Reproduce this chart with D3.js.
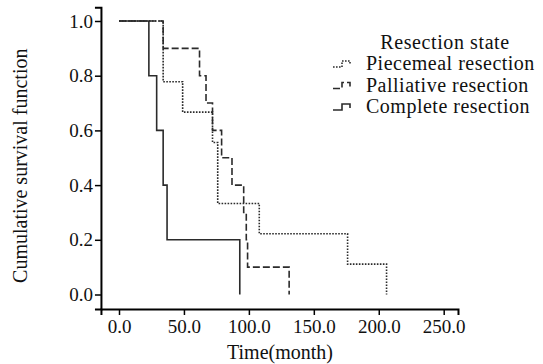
<!DOCTYPE html>
<html>
<head>
<meta charset="utf-8">
<script src="https://cdn.jsdelivr.net/npm/d3@7"></script>
<style>
  body { margin: 0; background: #fff; }
  svg, svg text { font-family: "Liberation Serif", "Times New Roman", serif !important; }
</style>
</head>
<body>
<div id="chart"></div>
<script>
// Kaplan-Meier steps (months, cumulative survival)
const piecemealTime = [0, 34, 49, 72, 76, 108, 176, 206];
const piecemealSurv = [1.0, 0.778, 0.667, 0.556, 0.333, 0.222, 0.111, 0.0];
const palliativeTime = [0, 34, 62, 67, 72, 79, 87, 96, 98, 99, 131];
const palliativeSurv = [1.0, 0.9, 0.8, 0.7, 0.6, 0.5, 0.4, 0.3, 0.2, 0.1, 0.0];
const completeTime = [0, 23, 29, 34, 37, 93];
const completeSurv = [1.0, 0.8, 0.6, 0.4, 0.2, 0.0];

const groupNames = ['Piecemeal resection', 'Palliative resection', 'Complete resection'];
const xTicks = [0, 50, 100, 150, 200, 250];
const yTicks = [0, 0.2, 0.4, 0.6, 0.8, 1.0];

const W = 543, H = 364;
const ink = '#2b2b2b';
const serif = '"Liberation Serif", "Times New Roman", serif';
const dashes = ['1.6,1.4', '7,3', null];

const series = [
  { name: groupNames[0], time: piecemealTime, surv: piecemealSurv },
  { name: groupNames[1], time: palliativeTime, surv: palliativeSurv },
  { name: groupNames[2], time: completeTime, surv: completeSurv }
];

const x = d3.scaleLinear().domain([0, 250]).range([119, 443.7]);
const y = d3.scaleLinear().domain([0, 1]).range([294.5, 21]);

// axes are drawn a little outside the data area (offset frame)
const xAxisScale = x.copy().domain([-13.9, 261]).range([x(-13.9), x(261)]);
const yAxisScale = y.copy().domain([-0.053, 1.05]).range([y(-0.053), y(1.05)]);

const svg = d3.select('#chart')
  .append('svg')
    .attr('width', W)
    .attr('height', H)
    .attr('font-family', serif);

const xAxisY = yAxisScale(-0.053);
const yAxisX = xAxisScale(-13.9);

const gx = svg.append('g')
  .attr('transform', `translate(0,${xAxisY})`)
  .call(d3.axisBottom(xAxisScale).tickValues(xTicks).tickSizeOuter(0).tickSize(6).tickPadding(5)
    .tickFormat(d3.format('.1f')));
gx.attr('font-family', serif).attr('font-size', 19);
gx.select('.domain').attr('stroke', '#000').attr('stroke-width', 2);
gx.selectAll('.tick line').attr('stroke', '#000').attr('stroke-width', 1.5);
gx.selectAll('text').attr('fill', '#111');

const gy = svg.append('g')
  .attr('transform', `translate(${yAxisX},0)`)
  .call(d3.axisLeft(yAxisScale).tickValues(yTicks).tickSizeOuter(0).tickSize(6).tickPadding(2)
    .tickFormat(d3.format('.1f')));
gy.attr('font-family', serif).attr('font-size', 19);
gy.select('.domain').attr('stroke', '#000').attr('stroke-width', 2);
gy.selectAll('.tick line').attr('stroke', '#000').attr('stroke-width', 1.5);
gy.selectAll('text').attr('fill', '#111');

// survival curves
const line = d3.line()
  .x(d => x(d[0]))
  .y(d => y(d[1]))
  .curve(d3.curveStepAfter);

series.forEach((s, i) => {
  const pts = s.time.map((t, k) => [t, s.surv[k]]);
  svg.append('path')
    .datum(pts)
    .attr('fill', 'none')
    .attr('stroke', ink)
    .attr('stroke-width', 1.6)
    .attr('stroke-dasharray', dashes[i])
    .attr('d', line);
});

// axis titles
svg.append('text')
  .attr('x', 280)
  .attr('y', 359)
  .attr('text-anchor', 'middle')
  .attr('font-size', 20)
  .attr('fill', '#111')
  .text('Time(month)');

svg.append('text')
  .attr('transform', `translate(27,${y(0.5) + 8}) rotate(-90)`)
  .attr('text-anchor', 'middle')
  .attr('font-size', 20)
  .attr('fill', '#111')
  .text('Cumulative survival function');

// legend
const legend = svg.append('g').attr('transform', 'translate(333,0)');
legend.append('text')
  .attr('x', 112)
  .attr('y', 49)
  .attr('text-anchor', 'middle')
  .attr('font-size', 20)
  .attr('letter-spacing', 0.6)
  .attr('fill', '#111')
  .text('Resection state');

series.forEach((s, i) => {
  const cy = 64 + i * 21.5;
  legend.append('path')
    .attr('d', `M0,${cy + 3}H9V${cy - 3}H17V${cy + 1}`)
    .attr('fill', 'none')
    .attr('stroke', ink)
    .attr('stroke-width', 1.6)
    .attr('stroke-dasharray', dashes[i]);
  legend.append('text')
    .attr('x', 33)
    .attr('y', cy + 6)
    .attr('font-size', 20)
    .attr('letter-spacing', 0.5)
    .attr('fill', '#111')
    .text(s.name);
});
</script>
</body>
</html>
